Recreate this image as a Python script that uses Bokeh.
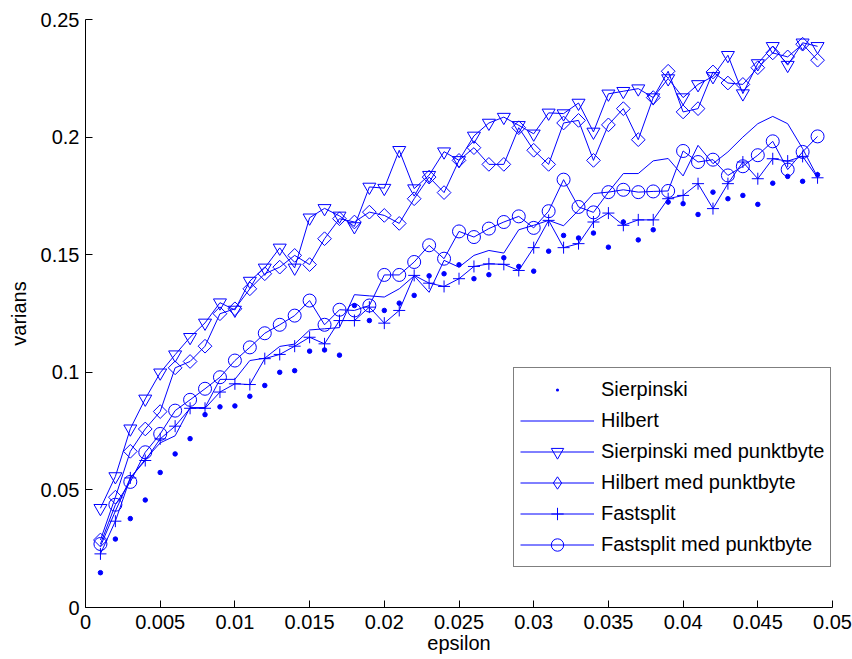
from bokeh.plotting import figure
from bokeh.models import Range1d, FixedTicker, Legend, LegendItem
from bokeh.embed import file_html
from bokeh.resources import INLINE

# ---------------- data ----------------
epsilon = [0.001, 0.002, 0.003, 0.004, 0.005, 0.006, 0.007, 0.008, 0.009, 0.010,
           0.011, 0.012, 0.013, 0.014, 0.015, 0.016, 0.017, 0.018, 0.019, 0.020,
           0.021, 0.022, 0.023, 0.024, 0.025, 0.026, 0.027, 0.028, 0.029, 0.030,
           0.031, 0.032, 0.033, 0.034, 0.035, 0.036, 0.037, 0.038, 0.039, 0.040,
           0.041, 0.042, 0.043, 0.044, 0.045, 0.046, 0.047, 0.048, 0.049]

sierpinski = [0.0148, 0.0291, 0.0378, 0.0457, 0.0574, 0.0653, 0.0718, 0.0820, 0.0853, 0.0857,
              0.0898, 0.0944, 0.1000, 0.1007, 0.1090, 0.1095, 0.1073, 0.1284, 0.1220, 0.1263,
              0.1294, 0.1327, 0.1410, 0.1419, 0.1457, 0.1398, 0.1415, 0.1487, 0.1450, 0.1430,
              0.1515, 0.1582, 0.1571, 0.1592, 0.1532, 0.1639, 0.1563, 0.1606, 0.1724, 0.1717,
              0.1671, 0.1766, 0.1738, 0.1752, 0.1714, 0.1804, 0.1833, 0.1812, 0.1840]

hilbert = [0.0260, 0.0410, 0.0550, 0.0630, 0.0700, 0.0730, 0.0850, 0.0850, 0.0970, 0.0970,
           0.1050, 0.1060, 0.1110, 0.1120, 0.1180, 0.1185, 0.1190, 0.1330, 0.1325, 0.1320,
           0.1355, 0.1410, 0.1340, 0.1476, 0.1447, 0.1497, 0.1518, 0.1507, 0.1606, 0.1625,
           0.1646, 0.1623, 0.1689, 0.1760, 0.1766, 0.1845, 0.1845, 0.1899, 0.1909, 0.1835,
           0.1965, 0.1887, 0.1937, 0.2000, 0.2057, 0.2088, 0.2057, 0.1951, 0.1830]

sierpinski_pb = [0.0422, 0.0557, 0.0760, 0.0887, 0.0998, 0.1075, 0.1149, 0.1210, 0.1296, 0.1265,
                 0.1388, 0.1444, 0.1529, 0.1444, 0.1657, 0.1697, 0.1665, 0.1620, 0.1788, 0.1783,
                 0.1944, 0.1781, 0.1838, 0.1938, 0.1901, 0.2005, 0.2060, 0.2085, 0.2050, 0.2014,
                 0.2103, 0.2100, 0.2145, 0.2022, 0.2184, 0.2195, 0.2206, 0.2168, 0.2249, 0.2168,
                 0.2224, 0.2258, 0.2348, 0.2185, 0.2313, 0.2386, 0.2306, 0.2401, 0.2386]

hilbert_pb = [0.0287, 0.0469, 0.0664, 0.0759, 0.0833, 0.1019, 0.1046, 0.1111, 0.1249, 0.1270,
              0.1355, 0.1419, 0.1447, 0.1497, 0.1458, 0.1568, 0.1653, 0.1639, 0.1681, 0.1667,
              0.1633, 0.1738, 0.1830, 0.1764, 0.1901, 0.1955, 0.1884, 0.1884, 0.2040, 0.1944,
              0.1884, 0.2060, 0.2071, 0.1901, 0.2052, 0.2121, 0.1989, 0.2168, 0.2280, 0.2107,
              0.2121, 0.2277, 0.2230, 0.2224, 0.2295, 0.2358, 0.2341, 0.2395, 0.2327]

fastsplit = [0.0228, 0.0367, 0.0551, 0.0625, 0.0717, 0.0771, 0.0847, 0.0847, 0.0916, 0.0951,
             0.0948, 0.1058, 0.1076, 0.1111, 0.1149, 0.1121, 0.1220, 0.1220, 0.1277, 0.1209,
             0.1263, 0.1412, 0.1379, 0.1365, 0.1398, 0.1450, 0.1461, 0.1459, 0.1433, 0.1530,
             0.1646, 0.1530, 0.1547, 0.1639, 0.1677, 0.1625, 0.1648, 0.1648, 0.1738, 0.1752,
             0.1802, 0.1696, 0.1802, 0.1894, 0.1823, 0.1908, 0.1898, 0.1918, 0.1827]

fastsplit_pb = [0.0270, 0.0437, 0.0534, 0.0660, 0.0738, 0.0837, 0.0883, 0.0930, 0.0979, 0.1050,
                0.1106, 0.1166, 0.1202, 0.1241, 0.1305, 0.1202, 0.1266, 0.1263, 0.1284, 0.1414,
                0.1414, 0.1469, 0.1540, 0.1483, 0.1599, 0.1575, 0.1611, 0.1639, 0.1663, 0.1614,
                0.1685, 0.1819, 0.1703, 0.1680, 0.1766, 0.1776, 0.1766, 0.1769, 0.1771, 0.1941,
                0.1894, 0.1904, 0.1837, 0.1876, 0.1923, 0.1982, 0.1862, 0.1937, 0.2003]

x_ticks = [0, 0.005, 0.01, 0.015, 0.02, 0.025, 0.03, 0.035, 0.04, 0.045, 0.05]
x_tick_labels = ["0", "0.005", "0.01", "0.015", "0.02", "0.025", "0.03", "0.035", "0.04", "0.045", "0.05"]
y_ticks = [0, 0.05, 0.1, 0.15, 0.2, 0.25]
y_tick_labels = ["0", "0.05", "0.1", "0.15", "0.2", "0.25"]

series_names = ["Sierpinski", "Hilbert", "Sierpinski med punktbyte",
                "Hilbert med punktbyte", "Fastsplit", "Fastsplit med punktbyte"]
x_label = "epsilon"
y_label = "varians"

# ---------------- figure ----------------
BLUE = "#0000FF"
FONT = "Liberation Sans"
NAN = float("nan")

p = figure(width=852, height=659, output_backend="svg", toolbar_location=None,
           x_range=Range1d(0, 0.05), y_range=Range1d(0, 0.25),
           min_border_left=85, min_border_right=20, min_border_top=19, min_border_bottom=52)
p.outline_line_color = None
p.xgrid.visible = False
p.ygrid.visible = False
p.background_fill_color = "white"
p.border_fill_color = "white"

for ax, ticks, labels in ((p.xaxis[0], x_ticks, x_tick_labels), (p.yaxis[0], y_ticks, y_tick_labels)):
    ax.ticker = FixedTicker(ticks=ticks)
    ax.major_label_overrides = {t: l for t, l in zip(ticks, labels)}
    ax.major_tick_in = 7
    ax.major_tick_out = 0
    ax.minor_tick_in = 0
    ax.minor_tick_out = 0
    ax.axis_line_color = "black"
    ax.major_tick_line_color = "black"
    ax.major_label_text_font = FONT
    ax.major_label_text_font_size = "20px"
    ax.major_label_text_color = "black"
    ax.axis_label_text_font = FONT
    ax.axis_label_text_font_size = "20px"
    ax.axis_label_text_font_style = "normal"
    ax.axis_label_text_color = "black"

p.xaxis.axis_label = x_label
p.xaxis.major_label_standoff = 7
p.xaxis.axis_label_standoff = 0
p.yaxis.axis_label = y_label
p.yaxis.major_label_standoff = 6
p.yaxis.major_label_orientation = "horizontal"
p.yaxis.axis_label_standoff = 8

r_s = p.scatter(epsilon, sierpinski, marker="circle", size=4.5, fill_color=BLUE, line_color=BLUE)

r_h = p.line(epsilon, hilbert, line_color=BLUE, line_width=1)

r_spl = p.line(epsilon, sierpinski_pb, line_color=BLUE, line_width=1)
r_spm = p.scatter(epsilon, sierpinski_pb, marker="inverted_triangle", size=13,
                  fill_color=None, line_color=BLUE, line_width=1)

r_hpl = p.line(epsilon, hilbert_pb, line_color=BLUE, line_width=1)
r_hpm = p.scatter(epsilon, hilbert_pb, marker="square", angle=0.7853981634, size=9.7,
                  fill_color=None, line_color=BLUE, line_width=1)

r_fl = p.line(epsilon, fastsplit, line_color=BLUE, line_width=1)
r_fm = p.scatter(epsilon, fastsplit, marker="cross", size=12,
                 fill_color=None, line_color=BLUE, line_width=1)

r_fpl = p.line(epsilon, fastsplit_pb, line_color=BLUE, line_width=1)
r_fpm = p.scatter(epsilon, fastsplit_pb, marker="circle", size=13,
                  fill_color=None, line_color=BLUE, line_width=1)

# legend-only sample glyphs (a single NaN point, so nothing is drawn in the plot)
leg_dot = p.scatter(x=[NAN], y=[NAN], marker="dot", line_color=BLUE, fill_color=BLUE, line_width=1)
leg_dia = p.scatter(x=[NAN], y=[NAN], marker="diamond", fill_color=None, line_color=BLUE, line_width=1)

legend = Legend(items=[
    LegendItem(label=series_names[0], renderers=[leg_dot]),
    LegendItem(label=series_names[1], renderers=[r_h]),
    LegendItem(label=series_names[2], renderers=[r_spl, r_spm]),
    LegendItem(label=series_names[3], renderers=[r_hpl, leg_dia]),
    LegendItem(label=series_names[4], renderers=[r_fl, r_fm]),
    LegendItem(label=series_names[5], renderers=[r_fpl, r_fpm]),
], location=(428, 40))
legend.padding = 6
legend.spacing = 0
legend.margin = 0
legend.glyph_width = 74
legend.glyph_height = 31
legend.label_height = 23
legend.label_standoff = 7
legend.label_text_font = FONT
legend.label_text_font_size = "20px"
legend.label_text_color = "black"
legend.border_line_color = "black"
legend.border_line_width = 1
legend.background_fill_color = "white"
legend.background_fill_alpha = 1.0
p.add_layout(legend, "center")

open("out.html", "w").write(file_html(p, INLINE))
